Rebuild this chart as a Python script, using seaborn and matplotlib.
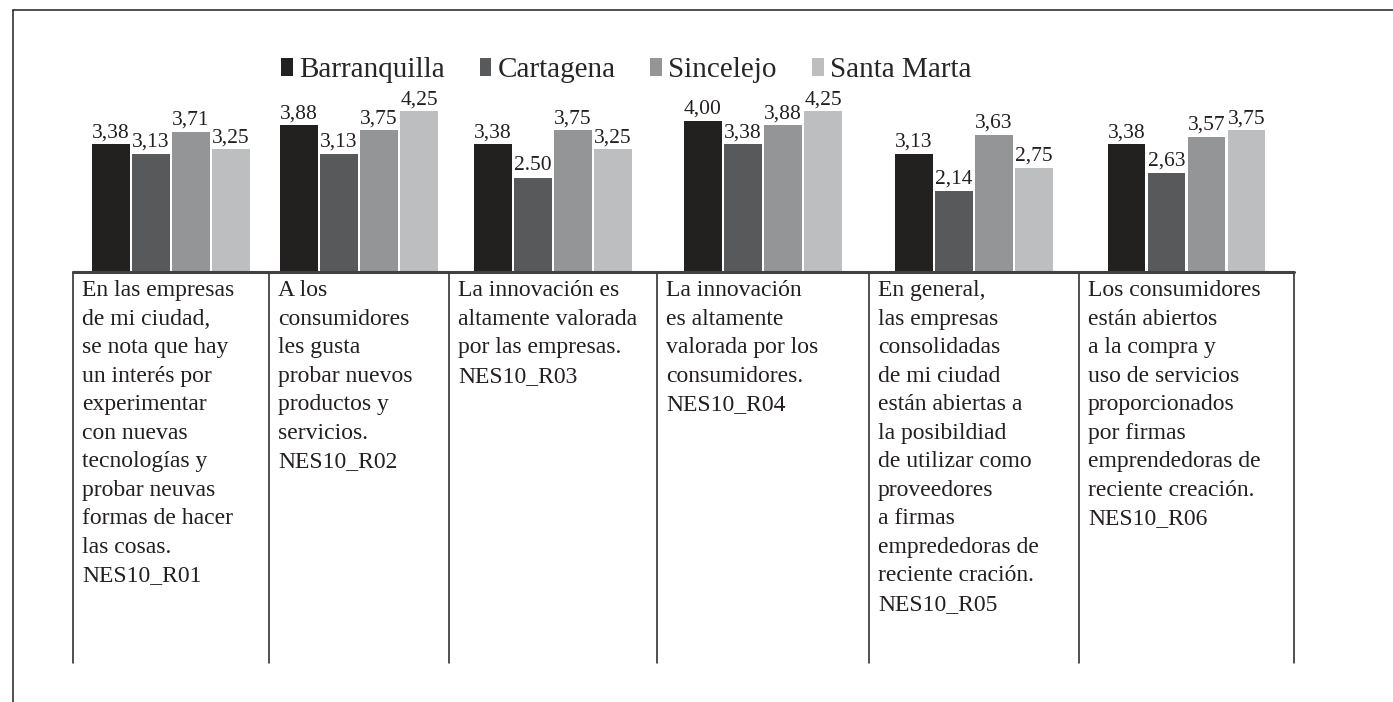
import matplotlib
matplotlib.use("Agg")
import matplotlib.pyplot as plt
import seaborn as sns
import pandas as pd
from matplotlib.lines import Line2D

# ---------------- data ----------------
items = ["NES10_R01", "NES10_R02", "NES10_R03", "NES10_R04", "NES10_R05", "NES10_R06"]
cities = ["Barranquilla", "Cartagena", "Sincelejo", "Santa Marta"]

barranquilla = [3.38, 3.88, 3.38, 4.00, 3.13, 3.38]
cartagena = [3.13, 3.13, 2.50, 3.38, 2.14, 2.63]
sincelejo = [3.71, 3.75, 3.75, 3.88, 3.63, 3.57]
santa_marta = [3.25, 4.25, 3.25, 4.25, 2.75, 3.75]

barranquilla_labels = ["3,38", "3,88", "3,38", "4,00", "3,13", "3,38"]
cartagena_labels = ["3,13", "3,13", "2.50", "3,38", "2,14", "2,63"]
sincelejo_labels = ["3,71", "3,75", "3,75", "3,88", "3,63", "3,57"]
santa_marta_labels = ["3,25", "4,25", "3,25", "4,25", "2,75", "3,75"]

descriptions = [
    "En las empresas\nde mi ciudad,\nse nota que hay\nun interés por\nexperimentar\ncon nuevas\n"
    "tecnologías y\nprobar neuvas\nformas de hacer\nlas cosas.\nNES10_R01",
    "A los\nconsumidores\nles gusta\nprobar nuevos\nproductos y\nservicios.\nNES10_R02",
    "La innovación es\naltamente valorada\npor las empresas.\nNES10_R03",
    "La innovación\nes altamente\nvalorada por los\nconsumidores.\nNES10_R04",
    "En general,\nlas empresas\nconsolidadas\nde mi ciudad\nestán abiertas a\nla posibildiad\n"
    "de utilizar como\nproveedores\na firmas\nemprededoras de\nreciente cración.\nNES10_R05",
    "Los consumidores\nestán abiertos\na la compra y\nuso de servicios\nproporcionados\npor firmas\n"
    "emprendedoras de\nreciente creación.\nNES10_R06",
]

series = [barranquilla, cartagena, sincelejo, santa_marta]
series_labels = [barranquilla_labels, cartagena_labels, sincelejo_labels, santa_marta_labels]

df = pd.DataFrame(
    [(it, c, v) for c, vals in zip(cities, series) for it, v in zip(items, vals)],
    columns=["item", "city", "value"],
)

# ---------------- style / layout ----------------
sns.set_theme(style="white")
plt.rcParams["font.family"] = ["Liberation Serif", "DejaVu Serif"]

colors = ["#231f20", "#58595b", "#939598", "#bcbec0"]
line_col = "#231f20"

W, H = 1393, 702
dividers = [73, 269, 449, 657, 869, 1079, 1294]   # px
top_px, zero_px, bottom_px = 10, 272, 663
px_per_unit = 37.8          # vertical scale (px per value unit)
px_per_x = 200.0            # horizontal scale (px per category unit)

fig = plt.figure(figsize=(W / 100, H / 100), dpi=100)

axes = []
for i, item in enumerate(items):
    left, right = dividers[i], dividers[i + 1]
    w = right - left
    ax = fig.add_axes([left / W, 1 - bottom_px / H, w / W, (bottom_px - top_px) / H])
    sub = df[df["item"] == item]
    sns.barplot(data=sub, x="item", y="value", hue="city", hue_order=cities,
                palette=colors, gap=0.07, width=0.8, linewidth=0,
                errorbar=None, legend=False, ax=ax)
    x0, x1 = -(w / 2) / px_per_x, (w / 2) / px_per_x
    ax.set_xlim(x0, x1)
    ymin = -(bottom_px - zero_px) / px_per_unit
    ymax = (zero_px - top_px) / px_per_unit
    ax.set_ylim(ymin, ymax)
    ax.axis("off")

    # value labels
    for cont, labs in zip(ax.containers, series_labels):
        ax.bar_label(cont, labels=[labs[i]], padding=1.5, fontsize=15.5,
                     color="#231f20")

    # baseline
    ax.axhline(0, color="#414042", lw=2.2, zorder=5, clip_on=False)
    # dividers
    zero_frac = (0 - ymin) / (ymax - ymin)
    ax.axvline(x0, ymin=0, ymax=zero_frac, color=line_col, lw=1.1, clip_on=False)
    if i == len(items) - 1:
        ax.axvline(x1, ymin=0, ymax=zero_frac, color=line_col, lw=1.1, clip_on=False)

    # description text
    ax.text(x0 + 9 / px_per_x, -(280 - zero_px) / px_per_unit, descriptions[i],
            ha="left", va="top", fontsize=17, linespacing=1.47, color="#231f20")
    axes.append(ax)

# legend
fig.legend(handles=axes[0].containers, labels=cities, loc="center left",
           bbox_to_anchor=(281 / W, 1 - 70 / H), ncol=4, frameon=False,
           fontsize=21, handlelength=0.41, handleheight=0.58, handletextpad=0.2,
           columnspacing=1.2, borderpad=0, borderaxespad=0)

# outer frame (top and left edges)
fig.add_artist(Line2D([12.5 / W, 1], [1 - 10 / H, 1 - 10 / H], color=line_col, lw=1.1))
fig.add_artist(Line2D([12.5 / W, 12.5 / W], [1 - 10 / H, 0], color=line_col, lw=1.1))

fig.savefig("out.png", dpi=100, facecolor="white")
